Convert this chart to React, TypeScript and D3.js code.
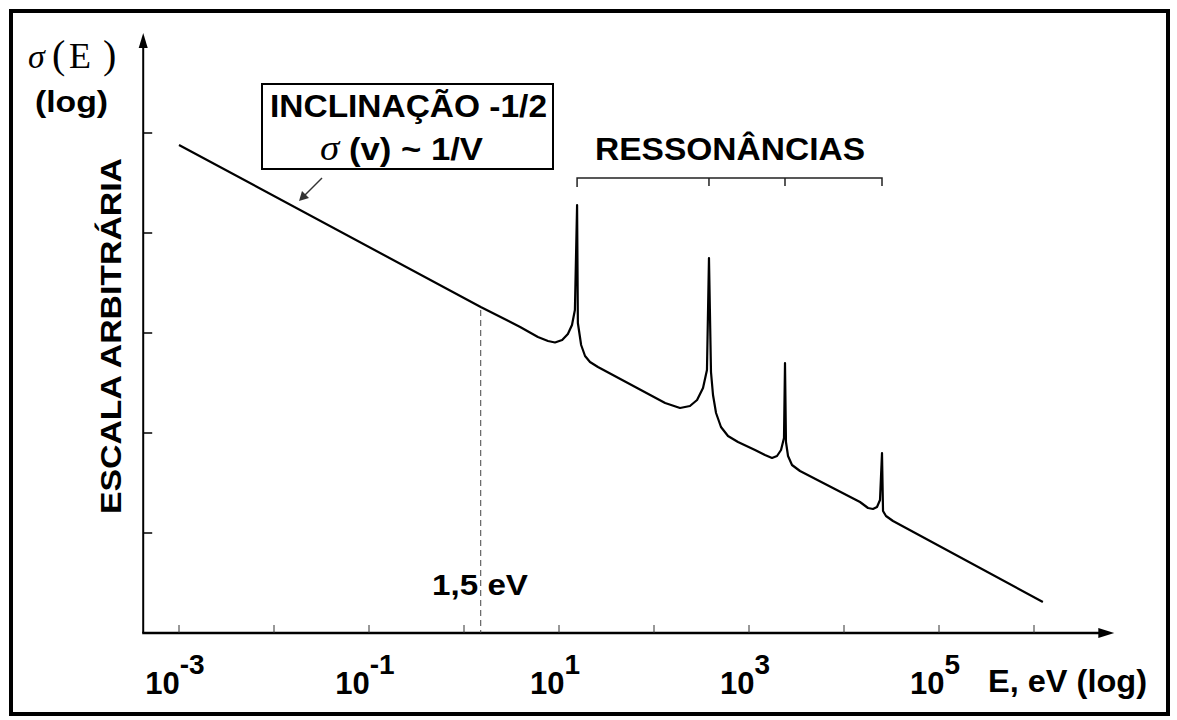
import React from "react";
import * as d3 from "d3";

// curve: energy in eV, sigma in arbitrary log units
const energies = [
  0.001, 1.5, 3.9, 6.0, 7.66, 9.07, 10.8, 12.4, 13.7, 14.7, 15.5, 15.8, 17.1, 18.8, 21.2, 25.7,
  131, 188, 239, 284, 328, 361, 379, 398, 418, 450, 507, 601, 766,
  1157, 1473, 1747, 1972, 2173, 2335, 2393, 2450, 2575, 2836, 3443,
  14740, 17900, 20180, 22250, 23930, 25120, 25750, 27670, 32810, 1240000,
];
const sigmas = [
  4.88, 3.26, 3.06, 2.96, 2.92, 2.905, 2.93, 2.99, 3.08, 3.23, 4.28, 3.1, 2.88, 2.77, 2.71, 2.66,
  2.3, 2.25, 2.27, 2.33, 2.45, 2.63, 3.75, 2.61, 2.38, 2.2, 2.06, 1.97, 1.91,
  1.83, 1.78, 1.75, 1.77, 1.83, 1.95, 2.7, 1.91, 1.77, 1.68, 1.62,
  1.31, 1.25, 1.24, 1.26, 1.33, 1.8, 1.22, 1.17, 1.12, 0.31,
];

const tickEnergies = [1e-3, 1e-2, 1e-1, 1, 10, 100, 1e3, 1e4, 1e5, 1e6];
const labelExponents = [-3, -1, 1, 3, 5];
const yTicks = [1, 2, 3, 4, 5];
const resonanceEnergies = [15.5, 379, 2393, 25120];
const markerEnergy = 1.5;

const FONT = "'Liberation Sans', Arial, sans-serif";
const SERIF = "'Liberation Serif', 'Times New Roman', serif";

export default function App() {
  const W = 1177;
  const H = 720;

  const x = d3.scaleLog().domain([1e-3, 1e6]).range([179, 1034]);
  const y = d3.scaleLinear().domain([0, 5]).range([633, 133]);

  const x0 = x(4.2e-4);
  const xEnd = x(7e6);
  const y0 = y(0);
  const yTop = y(6);

  const pts = energies.map((e, i) => [e, sigmas[i]] as [number, number]);
  const line = d3
    .line<[number, number]>()
    .x((d) => x(d[0]))
    .y((d) => y(d[1]))
    .curve(d3.curveLinear);

  // sigma at 1.5 eV, taken from the read points
  const markerSigma = sigmas[energies.indexOf(markerEnergy)];

  const bracketY = y(4.55);
  const bx1 = x(resonanceEnergies[0]);
  const bx2 = x(resonanceEnergies[resonanceEnergies.length - 1]);

  return (
    <svg
      width={W}
      height={H}
      style={{ position: "absolute", left: 0, top: 0, background: "#fff" }}
    >
      <rect x={0} y={0} width={W} height={H} fill="#fff" />
      <rect x={11} y={11} width={1157} height={703} fill="none" stroke="#000" strokeWidth={4} />

      {/* axes */}
      <line x1={x0} y1={y0} x2={x0} y2={yTop + 12} stroke="#000" strokeWidth={2} />
      <path d={`M${x0},${yTop} L${x0 - 4.5},${yTop + 15} L${x0 + 4.5},${yTop + 15} Z`} fill="#000" />
      <line x1={x0 - 1} y1={y0} x2={xEnd - 12} y2={y0} stroke="#000" strokeWidth={2.5} />
      <path d={`M${xEnd},${y0} L${xEnd - 16},${y0 - 5} L${xEnd - 16},${y0 + 5} Z`} fill="#000" />

      {yTicks.map((t) => (
        <line key={t} x1={x0} x2={x0 + 9} y1={y(t)} y2={y(t)} stroke="#000" strokeWidth={1.5} />
      ))}
      {tickEnergies.map((t) => (
        <line key={t} x1={x(t)} x2={x(t)} y1={y0} y2={y0 - 8} stroke="#333" strokeWidth={1} />
      ))}

      {labelExponents.map((p) => (
        <text
          key={p}
          x={x(Math.pow(10, p)) - 4}
          y={694}
          textAnchor="middle"
          fontFamily={FONT}
          fontWeight="bold"
          fontSize={31}
        >
          10
          <tspan fontSize={28} dy={-20}>
            {p < 0 ? `-${-p}` : `${p}`}
          </tspan>
        </text>
      ))}
      <text x={988} y={692} fontFamily={FONT} fontWeight="bold" fontSize={31} textLength={159} lengthAdjust="spacingAndGlyphs">
        E, eV (log)
      </text>

      {/* y labels */}
      <text y={68} fontFamily={SERIF}>
        <tspan x={28} fontSize={34} fontStyle="italic">σ</tspan>
        <tspan x={52} fontSize={40}>(</tspan>
        <tspan x={69} fontSize={36}>E</tspan>
        <tspan x={103} fontSize={40}>)</tspan>
      </text>
      <text x={35} y={112} fontFamily={FONT} fontWeight="bold" fontSize={30} textLength={73} lengthAdjust="spacingAndGlyphs">
        (log)
      </text>
      <text
        transform={`translate(121,336) rotate(-90)`}
        textAnchor="middle"
        fontFamily={FONT}
        fontWeight="bold"
        fontSize={30}
        textLength={356}
        lengthAdjust="spacingAndGlyphs"
      >
        ESCALA ARBITRÁRIA
      </text>

      {/* 1,5 eV marker */}
      <line
        x1={x(markerEnergy)}
        x2={x(markerEnergy)}
        y1={y(markerSigma) + 3}
        y2={y0}
        stroke="#444"
        strokeWidth={1}
        strokeDasharray="6,4"
      />
      <text x={432} y={595} fontFamily={FONT} fontWeight="bold" fontSize={30} textLength={96} lengthAdjust="spacingAndGlyphs">
        1,5 eV
      </text>

      {/* curve */}
      <path d={line(pts) || ""} fill="none" stroke="#000" strokeWidth={2.2} strokeLinejoin="round" />

      {/* resonance bracket */}
      <path
        d={`M${bx1},${bracketY + 9} L${bx1},${bracketY} L${bx2},${bracketY} L${bx2},${bracketY + 8}`}
        fill="none"
        stroke="#222"
        strokeWidth={1.5}
      />
      {resonanceEnergies.slice(1, -1).map((e) => (
        <line key={e} x1={x(e)} x2={x(e)} y1={bracketY} y2={bracketY + 8} stroke="#222" strokeWidth={1.5} />
      ))}
      <text x={595} y={160} fontFamily={FONT} fontWeight="bold" fontSize={32} textLength={270} lengthAdjust="spacingAndGlyphs">
        RESSONÂNCIAS
      </text>

      {/* slope annotation */}
      <rect x={262} y={84} width={291} height={85} fill="none" stroke="#000" strokeWidth={2} />
      <text x={270} y={117} fontFamily={FONT} fontWeight="bold" fontSize={32} textLength={277} lengthAdjust="spacingAndGlyphs">
        INCLINAÇÃO -1/2
      </text>
      <text x={320} y={160} fontFamily={FONT} fontWeight="bold" fontSize={32} textLength={163} lengthAdjust="spacingAndGlyphs">
        <tspan fontFamily={SERIF} fontStyle="italic" fontWeight="normal" fontSize={36}>σ</tspan>
        <tspan> (v) ~ 1/V</tspan>
      </text>
      <line x1={322} y1={178} x2={305} y2={195} stroke="#333" strokeWidth={1.5} />
      <path d="M299,201 L302,191 L309,198 Z" fill="#333" />
    </svg>
  );
}
